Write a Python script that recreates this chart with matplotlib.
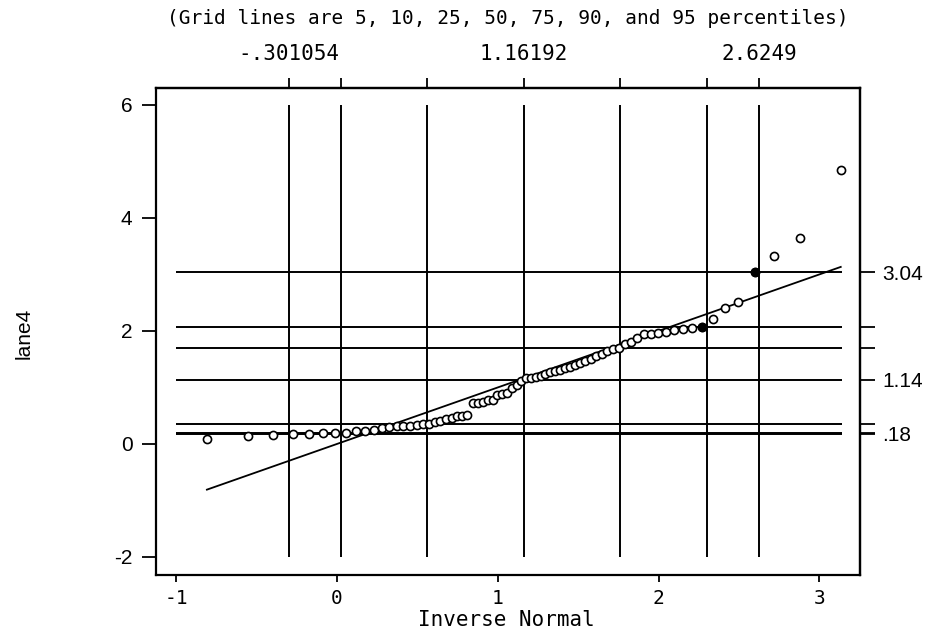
import numpy as np
import matplotlib
matplotlib.use("Agg")
import matplotlib.pyplot as plt
from statistics import NormalDist

# lane4, sorted values
lane4 = [0.08, 0.14, 0.16, 0.18, 0.18, 0.19, 0.19, 0.20,
         0.22, 0.23, 0.25, 0.28, 0.30,
         0.31, 0.31, 0.32, 0.33,
         0.35, 0.36, 0.39, 0.41, 0.44, 0.46, 0.50, 0.50, 0.52,
         0.72, 0.73, 0.75, 0.77, 0.78, 0.87, 0.88, 0.90, 0.99,
         1.04, 1.12, 1.16, 1.16,
         1.18, 1.21, 1.24, 1.27, 1.29, 1.31, 1.34, 1.37, 1.40, 1.43, 1.46,
         1.50, 1.55, 1.59, 1.64, 1.68, 1.70, 1.76, 1.80,
         1.88, 1.94, 1.95, 1.96, 1.98, 2.02, 2.03, 2.05, 2.07,
         2.21, 2.40, 2.52, 3.04, 3.33, 3.64, 4.84]

# normal fitted to lane4 (top axis values)
MEAN = 1.16192
P95_NORMAL = 2.6249

percentiles = [5, 10, 25, 50, 75, 90, 95]
data_pctl = [0.18, 0.20, 0.36, 1.14, 1.70, 2.07, 3.04]
right_labels = ['.18', '', '', '1.14', '', '', '3.04']
top_labels = ['-.301054', '', '', '1.16192', '', '', '2.6249']

bottom_ticks = [-1, 0, 1, 2, 3]
left_ticks = [-2, 0, 2, 4, 6]

title = "(Grid lines are 5, 10, 25, 50, 75, 90, and 95 percentiles)"
xlabel = "Inverse Normal"
ylabel = "lane4"

MONO = 'DejaVu Sans Mono'
SANS = 'Liberation Sans'

nd = NormalDist()
sd = (P95_NORMAL - MEAN) / nd.inv_cdf(0.95)
n = len(lane4)
y = np.sort(np.array(lane4))
x = np.array([MEAN + sd * nd.inv_cdf(i / (n + 1)) for i in range(1, n + 1)])
normal_pctl = [MEAN + sd * nd.inv_cdf(p / 100) for p in percentiles]

fig = plt.figure(figsize=(9.32, 6.31), dpi=100)
W, H = 932, 631
ax = fig.add_axes([156 / W, 1 - 575 / H, 704 / W, 487 / H])
ax.set_xlim(-1.126, 3.253)
ax.set_ylim(-2.32, 6.30)

# grid lines at the percentiles
ax.vlines(normal_pctl, -2, 6, color='black', lw=1.4, zorder=1)
ax.hlines(data_pctl, -1, 3.14, color='black', lw=1.4, zorder=1)

# reference line y = x
ax.plot([x[0], x[-1]], [x[0], x[-1]], color='black', lw=1.3, zorder=2)

ax.scatter(x, y, s=34, facecolors='white', edgecolors='black',
           linewidths=1.2, zorder=3)
# points sitting on grid crossings print solid
on_cross = [66, 70]
ax.scatter(x[on_cross], y[on_cross], s=34, color='black', zorder=4)

for sp in ax.spines.values():
    sp.set_linewidth(1.6)

ax.set_xticks(bottom_ticks)
ax.set_xticklabels([str(t) for t in bottom_ticks], family=MONO, fontsize=14)
ax.set_yticks(left_ticks)
ax.set_yticklabels([str(t) for t in left_ticks], family=SANS, fontsize=15)
ax.tick_params(axis='x', direction='out', length=5, width=1.3, pad=5)
ax.tick_params(axis='y', direction='out', length=10, width=1.3, pad=7)

top = ax.secondary_xaxis('top')
top.set_xticks(normal_pctl)
top.set_xticklabels(top_labels, family=MONO, fontsize=15)
top.tick_params(direction='out', length=7, width=1.3, pad=10)
top.spines['top'].set_linewidth(1.6)

right = ax.secondary_yaxis('right')
right.set_yticks(data_pctl)
right.set_yticklabels(right_labels, family=SANS, fontsize=15)
right.tick_params(direction='out', length=11, width=1.3, pad=5)
right.spines['right'].set_linewidth(1.6)

fig.text(508 / W, 1 - 18 / H, title, ha='center', va='center',
         family=MONO, fontsize=14)
fig.text(506 / W, 1 - 620 / H, xlabel, ha='center', va='center',
         family=MONO, fontsize=15)
fig.text(24 / W, 1 - 333 / H, ylabel, ha='center', va='center',
         rotation=90, family=SANS, fontsize=15)

fig.savefig('out.png', dpi=100, facecolor='white')
